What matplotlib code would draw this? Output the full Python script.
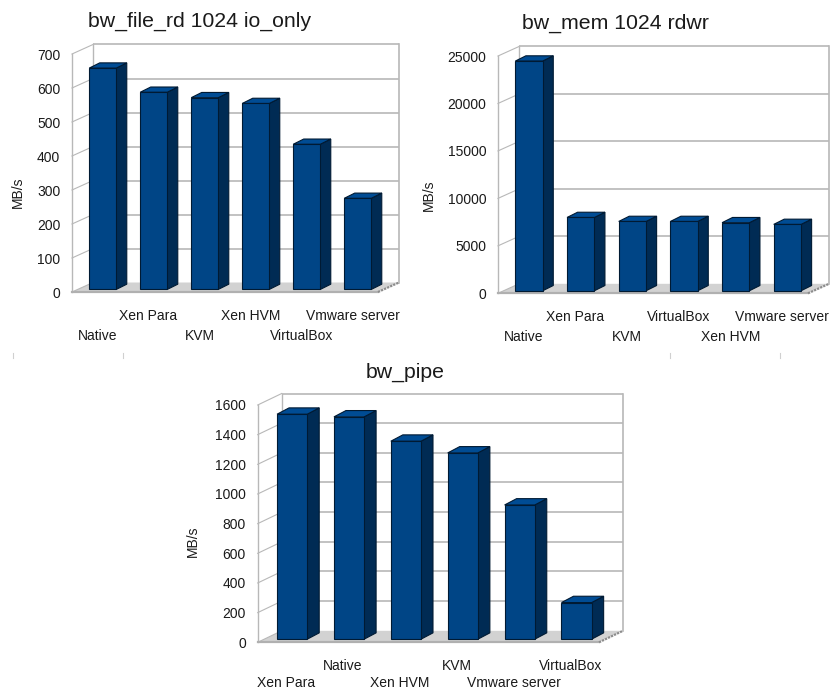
import matplotlib
matplotlib.use("Agg")
import matplotlib.pyplot as plt
from matplotlib.lines import Line2D
from matplotlib.patches import Polygon

plt.rcParams['font.family'] = ['Liberation Sans', 'DejaVu Sans']

W, H = 832, 691

# === Valeurs ===
file_names = ["Native", "Xen Para", "KVM", "Xen HVM", "VirtualBox", "Vmware server"]
file_values = [651, 580, 564, 547, 427, 268]
file_ticks = [0, 100, 200, 300, 400, 500, 600, 700]

mem_names = ["Native", "Xen Para", "KVM", "VirtualBox", "Xen HVM", "Vmware server"]
mem_values = [24200, 7720, 7300, 7300, 7170, 6990]
mem_ticks = [0, 5000, 10000, 15000, 20000, 25000]

pipe_names = ["Xen Para", "Native", "Xen HVM", "KVM", "Vmware server", "VirtualBox"]
pipe_values = [1517, 1499, 1335, 1256, 905, 247]
pipe_ticks = [0, 200, 400, 600, 800, 1000, 1200, 1400, 1600]

BLUE = "#004586"
SIDE = "#002b54"
TOP = "#004c94"
EDGE = "#001a33"
GRID = "#b8b8b8"
TEXT = "#1a1a1a"


def chart(fig, title, names, values, ticks, box, depth, title_pos, label_pos, low_pad=26.5):
    # box = left, top, right, bottom du plan avant, en pixels
    left, top, right, bottom = box
    ax = fig.add_axes([left / W, 1 - bottom / H, (right - left) / W, (bottom - top) / H])
    n = len(names)
    ymax = ticks[-1]
    ax.set_xlim(0, n)
    ax.set_ylim(0, ymax)
    for s in ax.spines.values():
        s.set_visible(False)

    # passage pixels -> données
    px_x = n / (right - left)
    px_y = ymax / (bottom - top)
    dx = depth[0] * px_x
    dy = depth[1] * px_y

    # sol
    ax.add_patch(Polygon([(0, 0), (n, 0), (n + dx, dy), (dx, dy)], fc="#d2d2d2", ec="none",
                         clip_on=False, zorder=1))

    # murs et grille
    for t in ticks:
        ax.plot([0, dx], [t, t + dy], color=GRID, lw=0.8, clip_on=False, zorder=2)
        if t > 0:
            ax.plot([dx, n + dx], [t + dy, t + dy], color=GRID, lw=1.2, clip_on=False, zorder=2,
                    solid_capstyle="butt")
    ax.plot([0, 0], [0, ymax], color=GRID, lw=1, clip_on=False, zorder=2)
    ax.plot([dx, dx], [dy, ymax + dy], color=GRID, lw=1, clip_on=False, zorder=2)
    ax.plot([n + dx, n + dx], [dy, ymax + dy], color=GRID, lw=1.2, clip_on=False, zorder=2)
    ax.plot([0, n], [0, 0], color="#b0b0b0", lw=1.6, clip_on=False, zorder=2)
    ax.plot([n, n + dx], [0, dy], color="#8c8c8c", lw=1.6, ls=(0, (1, 0.5)), clip_on=False, zorder=2)

    # barres
    off_x = 0.25 * dx
    off_y = 0.27 * dy
    bar_w = 0.53
    side_x = 0.5 * dx
    side_y = 0.55 * dy
    for i, v in enumerate(values):
        x0 = i + 0.5 + off_x - bar_w / 2
        x1 = x0 + bar_w
        y0 = off_y
        y1 = off_y + v
        ax.bar(x0 + bar_w / 2, v, bar_w, bottom=off_y, color=BLUE, edgecolor=EDGE, linewidth=0.8,
               clip_on=False, zorder=4)
        ax.add_patch(Polygon([(x1, y0), (x1 + side_x, y0 + side_y), (x1 + side_x, y1 + side_y), (x1, y1)],
                             fc=SIDE, ec=EDGE, lw=0.8, clip_on=False, zorder=3))
        ax.add_patch(Polygon([(x0, y1), (x1, y1), (x1 + side_x, y1 + side_y), (x0 + side_x, y1 + side_y)],
                             fc=TOP, ec=EDGE, lw=0.8, clip_on=False, zorder=3))

    # étiquettes
    ax.set_yticks(ticks)
    ax.tick_params(axis="y", length=0, pad=8.5, labelsize=10, labelcolor=TEXT)
    ax.set_xticks([i + 0.5 for i in range(n)])
    ax.set_xticklabels(names, fontsize=10, color=TEXT)
    ax.tick_params(axis="x", length=0)
    for i, tick in enumerate(ax.xaxis.get_major_ticks()):
        tick.set_pad(low_pad if i % 2 == 0 else 12)

    ax.set_ylabel("MB/s", fontsize=10, color=TEXT)
    ax.yaxis.set_label_coords((label_pos[0] - left) / (right - left), (bottom - label_pos[1]) / (bottom - top))
    fig.text(title_pos[0] / W, 1 - title_pos[1] / H, title, fontsize=15.3, color=TEXT,
             ha="center", va="center")
    return ax


fig = plt.figure(figsize=(W / 100, H / 100), dpi=100)
chart(fig, "bw_file_rd 1024 io_only", file_names, file_values, file_ticks,
      (72, 54, 378, 292), (21, 9.5), (200, 21), (25, 192))
chart(fig, "bw_mem 1024 rdwr", mem_names, mem_values, mem_ticks,
      (498, 56, 808, 293.3), (21, 9.5), (615.5, 23), (436, 195))
chart(fig, "bw_pipe", pipe_names, pipe_values, pipe_ticks,
      (257.7, 405, 599, 642.3), (24, 11.5), (405, 372), (200, 541), low_pad=24.5)

# petites traces grises sous les deux premiers graphiques
for x in [13, 123, 670, 780]:
    fig.add_artist(Line2D([x / W, x / W], [1 - 353 / H, 1 - 358 / H], color="#d0d0d0", lw=0.8))

fig.savefig("out.png", dpi=100)
